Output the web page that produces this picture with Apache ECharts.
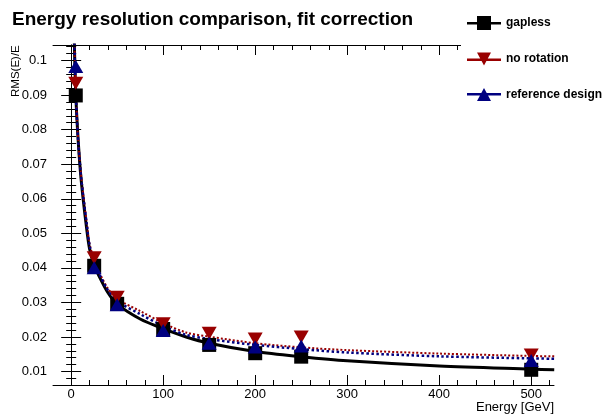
<!DOCTYPE html>
<html>
<head>
<meta charset="utf-8">
<script src="https://cdn.jsdelivr.net/npm/echarts@6/dist/echarts.min.js"></script>
<style>
  html, body { margin: 0; padding: 0; background: #fff; }
  #chart { width: 607px; height: 418px; }
</style>
</head>
<body>
<div id="chart"></div>
<script>
// measured points
const energies = [5, 25, 50, 100, 150, 200, 250, 500];
const gapless = [0.0899, 0.0406, 0.0296, 0.0223, 0.0177, 0.0153, 0.0143, 0.0105];
const noRotation = [0.0934, 0.0429, 0.0315, 0.0238, 0.0211, 0.0194, 0.0200, 0.0148];
const referenceDesign = [0.0983, 0.0400, 0.0293, 0.0219, 0.0182, 0.0171, 0.0174, 0.0132];

// fit curves
const curveE = [3, 4, 5, 7, 10, 13, 17, 20, 25, 30, 40, 50, 75, 100, 125, 150, 200, 250, 300, 400, 500, 525];
const gaplessFit = [0.110, 0.099, 0.090, 0.0795, 0.068, 0.060, 0.051, 0.0455, 0.0408, 0.0378, 0.0328, 0.0295, 0.0252, 0.0224, 0.0200, 0.0182, 0.0158, 0.0143, 0.0131, 0.0116, 0.0107, 0.0105];
const noRotationFit = [0.112, 0.101, 0.092, 0.080, 0.069, 0.0615, 0.053, 0.047, 0.0422, 0.0390, 0.0340, 0.0310, 0.0275, 0.0240, 0.0213, 0.0201, 0.0182, 0.0170, 0.0162, 0.0152, 0.0145, 0.0144];
const referenceFit = [0.111, 0.100, 0.091, 0.0795, 0.0685, 0.061, 0.0525, 0.0465, 0.0416, 0.0385, 0.0335, 0.0304, 0.0266, 0.0232, 0.0206, 0.0194, 0.0177, 0.0165, 0.0155, 0.0144, 0.0138, 0.0137];

// axis ticks
const xMajor = [0, 100, 200, 300, 400, 500];
const xMinor = [20, 40, 60, 80, 120, 140, 160, 180, 220, 240, 260, 280, 320, 340, 360, 380, 420, 440, 460, 480, 520];
const yMajor = [0.01, 0.02, 0.03, 0.04, 0.05, 0.06, 0.07, 0.08, 0.09, 0.1];
const yMinor = [0.008, 0.012, 0.014, 0.016, 0.018, 0.022, 0.024, 0.026, 0.028, 0.032, 0.034, 0.036, 0.038,
  0.042, 0.044, 0.046, 0.048, 0.052, 0.054, 0.056, 0.058, 0.062, 0.064, 0.066, 0.068, 0.072, 0.074, 0.076, 0.078,
  0.082, 0.084, 0.086, 0.088, 0.092, 0.094, 0.096, 0.098, 0.102, 0.104];

const BLACK = '#000000';
const RED = '#990000';
const BLUE = '#000080';
const FONT = 'Liberation Sans, Arial, Helvetica, sans-serif';

const pairs = (xs, ys) => xs.map((x, i) => [x, ys[i]]);

const xAxisBase = {
  type: 'value', min: -19.75, max: 524.75,
  splitLine: { show: false }
};
const yAxisBase = {
  type: 'value', min: 0.0061, max: 0.1045,
  splitLine: { show: false }
};

const tickAxis = (base, position, values, len, showLine, labels, margin) => Object.assign({}, base, {
  position: position,
  axisLine: { show: showLine, lineStyle: { color: '#000', width: 1 } },
  axisTick: { show: true, inside: true, length: len, customValues: values, lineStyle: { color: '#000', width: 1 } },
  axisLabel: labels
    ? { show: true, customValues: values, color: '#000', fontFamily: FONT, fontSize: 13, margin: margin,
        formatter: (v) => String(+v.toFixed(3)) }
    : { show: false }
});

const chart = echarts.init(document.getElementById('chart'));

const option = {
  animation: false,
  backgroundColor: '#fff',
  grid: { left: 53, right: 53, top: 45, bottom: 33 },
  xAxis: [
    tickAxis(xAxisBase, 'bottom', xMajor, 10, true, true, 3),
    tickAxis(xAxisBase, 'bottom', xMinor, 5, false, false),
    tickAxis(xAxisBase, 'top', xMajor, 10, true, false),
    tickAxis(xAxisBase, 'top', xMinor, 5, false, false)
  ],
  yAxis: [
    tickAxis(yAxisBase, 'left', yMajor, 10, true, true, 6),
    tickAxis(yAxisBase, 'left', yMinor, 5, false, false),
    tickAxis(yAxisBase, 'right', yMajor, 10, true, false),
    tickAxis(yAxisBase, 'right', yMinor, 5, false, false)
  ],
  legend: {
    orient: 'vertical',
    left: 462, top: 11,
    itemWidth: 34, itemHeight: 16, itemGap: 22.5,
    selectedMode: false,
    z: 10,
    textStyle: { fontFamily: FONT, fontSize: 12, fontWeight: 'bold', color: '#000' },
    data: [
      { name: 'gapless', icon: 'path://M0,7 L34,7 L34,9.5 L0,9.5 Z M10,1 L24,1 L24,15 L10,15 Z' },
      { name: 'no rotation', icon: 'path://M0,7 L34,7 L34,9.5 L0,9.5 Z M10,1 L24,1 L17,14 Z' },
      { name: 'reference design', icon: 'path://M0,7 L34,7 L34,9.5 L0,9.5 Z M17,2 L24,15 L10,15 Z' }
    ]
  },
  title: {
    text: 'Energy resolution comparison, fit correction',
    left: 7, top: 5,
    textStyle: { fontFamily: FONT, fontSize: 19, fontWeight: 'bold', color: '#000' }
  },
  graphic: [
    { type: 'rect', left: 461, top: 0, shape: { width: 146, height: 121 }, style: { fill: '#fff' }, z: 5 },
    { type: 'text', x: 16, y: 97, rotation: Math.PI / 2,
      style: { text: 'RMS(E)/E', font: '11.5px ' + FONT, fill: '#000', textAlign: 'left', textVerticalAlign: 'middle' }, z: 5 },
    { type: 'text', right: 53, top: 401,
      style: { text: 'Energy [GeV]', font: '13px ' + FONT, fill: '#000' }, z: 5 }
  ],
  series: [
    { name: 'gapless fit', type: 'line', data: pairs(curveE, gaplessFit), smooth: 0.3,
      showSymbol: false, lineStyle: { color: BLACK, width: 3 }, z: 2 },
    { name: 'no rotation fit', type: 'line', data: pairs(curveE, noRotationFit), smooth: 0.3,
      showSymbol: false, lineStyle: { color: RED, width: 2, type: 'dotted' }, z: 2 },
    { name: 'reference fit', type: 'line', data: pairs(curveE, referenceFit), smooth: 0.3,
      showSymbol: false, lineStyle: { color: BLUE, width: 2.5, type: 'dotted' }, z: 2 },
    { name: 'gapless', type: 'scatter', data: pairs(energies, gapless), symbol: 'rect', symbolSize: 14,
      itemStyle: { color: BLACK, opacity: 1 }, z: 3 },
    { name: 'no rotation', type: 'scatter', data: pairs(energies, noRotation), symbol: 'triangle', symbolRotate: 180,
      symbolSize: [15, 13], itemStyle: { color: RED, opacity: 1 }, z: 3 },
    { name: 'reference design', type: 'scatter', data: pairs(energies, referenceDesign), symbol: 'triangle',
      symbolSize: [15, 13], itemStyle: { color: BLUE, opacity: 1 }, z: 3 }
  ]
};

chart.setOption(option);
</script>
</body>
</html>
